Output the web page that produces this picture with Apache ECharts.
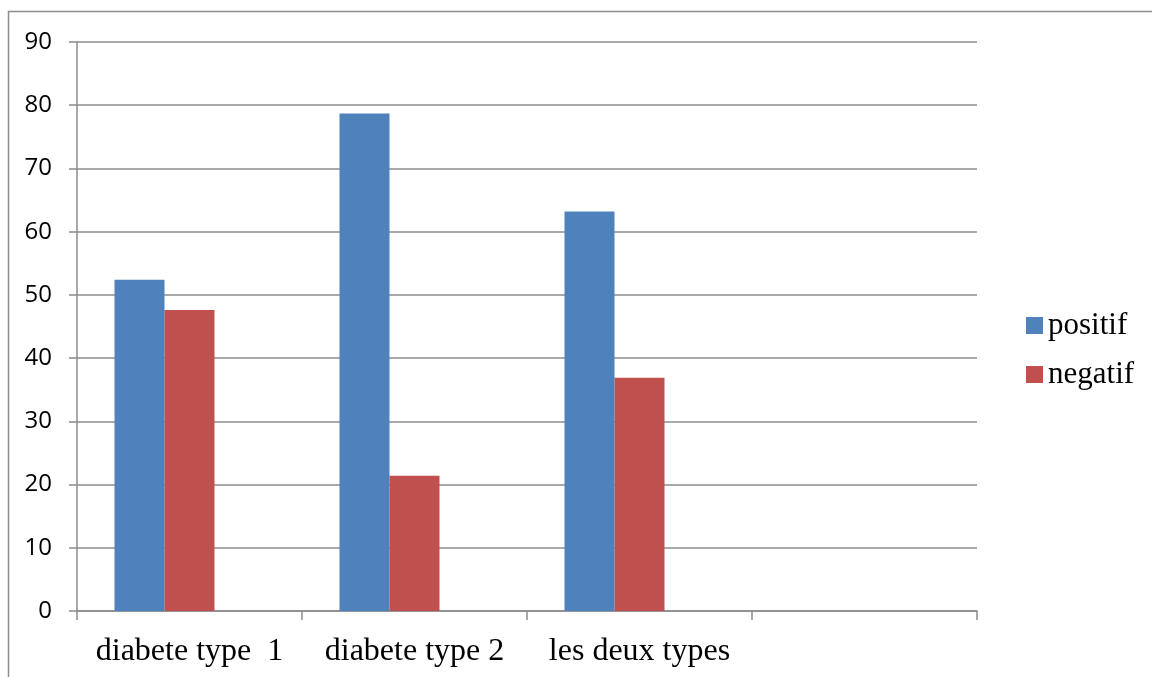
<!DOCTYPE html>
<html>
<head>
  <meta charset="utf-8">
  <script src="https://cdn.jsdelivr.net/npm/echarts@6/dist/echarts.min.js"></script>
  <style>
    html, body {
      margin: 0;
      padding: 0;
      background: #fff;
    }
    #chart {
      width: 1152px;
      height: 677px;
    }
  </style>
</head>
<body>
<div id="chart"></div>
<script>
  // categories (the last one is empty, as in the original sheet)
  var categories = ['diabete type  1', 'diabete type 2', 'les deux types', '']
  // percentages
  var positif = [52.4, 78.7, 63.2, null]
  var negatif = [47.6, 21.4, 36.9, null]
  // empty third series, it only keeps its slot in each group
  var vide = [null, null, null, null]
  var yTicks = [0, 90, 10]

  var gridColor = '#8c8c8c'
  var myChart = echarts.init(document.getElementById('chart'))
  var option = {
    animation: false,
    graphic: [
      {
        type: 'rect',
        shape: {x: 8.5, y: 11.5, width: 1300, height: 800},
        style: {fill: 'none', stroke: gridColor, lineWidth: 1.5}
      }
    ],
    legend: {
      data: ['positif', 'negatif'],
      orient: 'vertical',
      left: 1021,
      top: 305,
      icon: 'rect',
      itemWidth: 17,
      itemHeight: 17,
      itemGap: 18,
      textStyle: {
        fontFamily: 'Liberation Serif',
        fontSize: 31,
        color: '#000'
      }
    },
    grid: {
      left: 77,
      right: 175,
      top: 42,
      bottom: 66,
      containLabel: false
    },
    xAxis: {
      type: 'category',
      data: categories,
      axisLine: {lineStyle: {color: gridColor, width: 1.5}},
      axisTick: {show: true, length: 9, interval: 0, alignWithLabel: false, lineStyle: {color: gridColor, width: 1.5}},
      axisLabel: {
        interval: 0,
        margin: 25,
        fontFamily: 'Liberation Serif',
        fontSize: 32,
        color: '#000'
      }
    },
    yAxis: {
      type: 'value',
      min: yTicks[0],
      max: yTicks[1],
      interval: yTicks[2],
      axisLine: {show: true, lineStyle: {color: gridColor, width: 1.5}},
      axisTick: {show: true, length: 8, lineStyle: {color: gridColor, width: 1.5}},
      splitLine: {lineStyle: {color: gridColor, width: 1.5}},
      axisLabel: {
        margin: 25,
        fontFamily: 'Open Sans',
        fontSize: 24,
        color: '#000'
      }
    },
    series: [
      {
        name: 'positif',
        type: 'bar',
        barWidth: 50,
        barGap: '0%',
        itemStyle: {color: '#4f81bd'},
        data: positif
      },
      {
        name: 'negatif',
        type: 'bar',
        barWidth: 50,
        barGap: '0%',
        itemStyle: {color: '#c0504d'},
        data: negatif
      },
      {
        name: 'vide',
        type: 'bar',
        barWidth: 50,
        barGap: '0%',
        itemStyle: {color: '#9bbb59'},
        data: vide
      }
    ]
  }
  myChart.setOption(option, true)
</script>
</body>
</html>
